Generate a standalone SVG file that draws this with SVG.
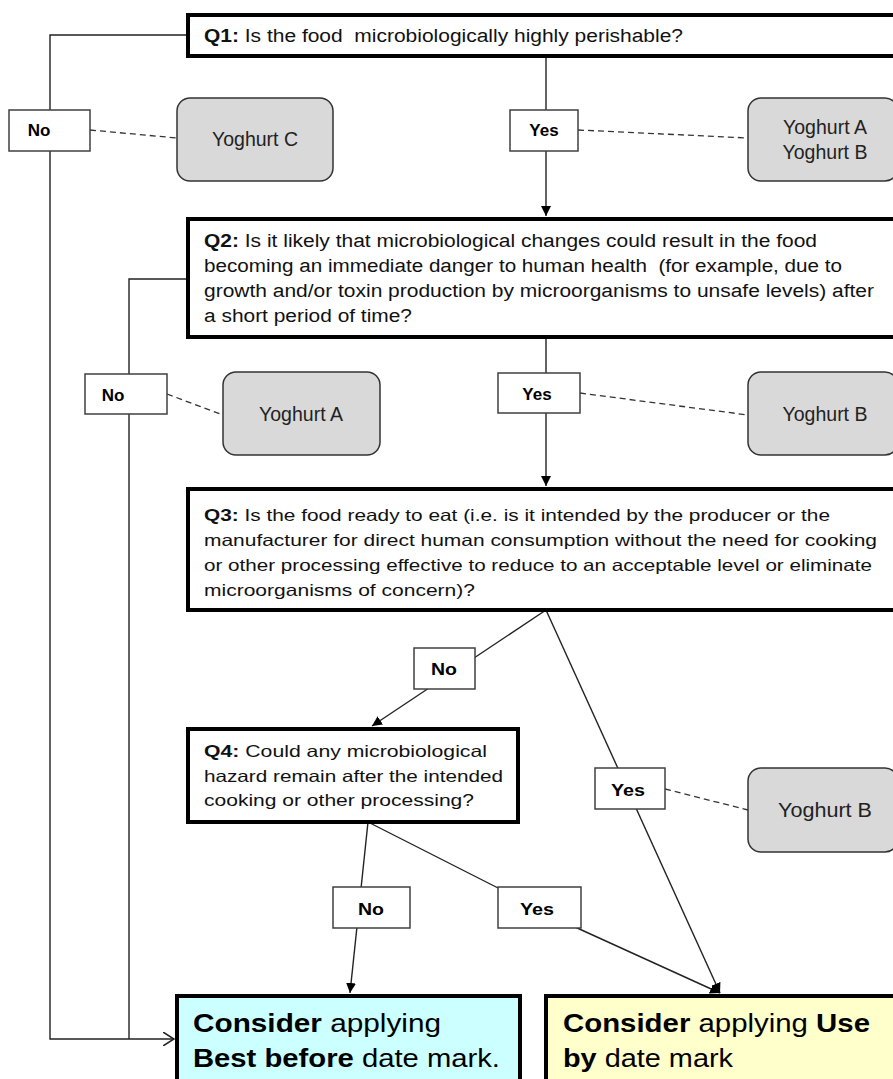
<svg xmlns="http://www.w3.org/2000/svg" width="893" height="1079" viewBox="0 0 893 1079">
<style>
.q{fill:#fff;stroke:#000;stroke-width:4}
.lbl{fill:#fff;stroke:#404040;stroke-width:1.5}
.yog{fill:#d9d9d9;stroke:#333;stroke-width:1.5}
.t{font-family:"Liberation Sans",Arial,sans-serif;font-size:18px;fill:#111}
.tn{font-family:"Liberation Sans",Arial,sans-serif;font-size:16.5px;fill:#111}
.lt{font-family:"Liberation Sans",Arial,sans-serif;font-size:17px;font-weight:bold;fill:#000;text-anchor:middle}
.yt{font-family:"Liberation Sans",Arial,sans-serif;font-size:19.5px;fill:#222;text-anchor:middle}
.big{font-family:"Liberation Sans",Arial,sans-serif;font-size:25px;fill:#000}
.con{fill:none;stroke:#222;stroke-width:1.4}
.dash{fill:none;stroke:#333;stroke-width:1.3;stroke-dasharray:6,4}
</style>
<defs>
<marker id="ah" viewBox="0 0 10 10" refX="10" refY="5" markerWidth="10" markerHeight="10" markerUnits="userSpaceOnUse" orient="auto">
<path d="M0,0 L10,5 L0,10 z" fill="#000"/>
</marker>
<marker id="oa" viewBox="0 0 12 14" refX="11" refY="7" markerWidth="12" markerHeight="14" markerUnits="userSpaceOnUse" orient="auto">
<path d="M0,0 L11,7 L0,14" fill="none" stroke="#222" stroke-width="1.5"/>
</marker>
</defs>
<rect width="893" height="1079" fill="#fff"/>
<g id="connectors">
<polyline class="con" points="188,35 50,35 50,1039 174,1039" marker-end="url(#oa)"/>
<polyline class="con" points="188,279 129,279 129,1039"/>
<line class="con" x1="546" y1="56" x2="546" y2="216" marker-end="url(#ah)"/>
<line class="con" x1="546" y1="337" x2="546" y2="486" marker-end="url(#ah)"/>
<line class="con" x1="546" y1="610" x2="372" y2="726" marker-end="url(#ah)"/>
<line class="con" x1="546" y1="610" x2="720" y2="993" marker-end="url(#ah)"/>
<line class="con" x1="368" y1="822" x2="350" y2="993" marker-end="url(#ah)"/>
<polyline class="con" points="368,822 500,889 575,927 720,993" marker-end="url(#ah)"/>
<line class="dash" x1="90" y1="130" x2="177" y2="138"/>
<line class="dash" x1="578" y1="130" x2="748" y2="138"/>
<line class="dash" x1="167" y1="394" x2="223" y2="415"/>
<line class="dash" x1="580" y1="393" x2="748" y2="415"/>
<line class="dash" x1="665" y1="789" x2="748" y2="810"/>
</g>
<g id="q1">
<rect class="q" x="188" y="15" width="720" height="41"/>
<text class="t" x="204" y="42" textLength="479" lengthAdjust="spacingAndGlyphs" xml:space="preserve"><tspan font-weight="bold">Q1:</tspan> Is the food  microbiologically highly perishable?</text>
</g>
<g id="q1-no"><rect class="lbl" x="9" y="110" width="81" height="41"/><text class="lt" x="39" y="136">No</text></g>
<g id="q1-yes"><rect class="lbl" x="510" y="110" width="68" height="41"/><text class="lt" x="544" y="136">Yes</text></g>
<g id="yog-c"><rect class="yog" x="177" y="98" width="156" height="83" rx="13"/><text class="yt" x="255" y="146">Yoghurt C</text></g>
<g id="yog-ab"><rect class="yog" x="748" y="98" width="150" height="83" rx="13"/><text class="yt" x="825" y="134">Yoghurt A</text><text class="yt" x="825" y="159">Yoghurt B</text></g>
<g id="q2">
<rect class="q" x="188" y="219" width="720" height="118"/>
<text class="t" x="204" y="247" textLength="613" lengthAdjust="spacingAndGlyphs"><tspan font-weight="bold">Q2:</tspan> Is it likely that microbiological changes could result in the food</text>
<text class="t" x="204" y="272" textLength="638" lengthAdjust="spacingAndGlyphs" xml:space="preserve">becoming an immediate danger to human health  (for example, due to</text>
<text class="t" x="204" y="297" textLength="670" lengthAdjust="spacingAndGlyphs">growth and/or toxin production by microorganisms to unsafe levels) after</text>
<text class="t" x="204" y="322" textLength="208" lengthAdjust="spacingAndGlyphs">a short period of time?</text>
</g>
<g id="q2-no"><rect class="lbl" x="85" y="374" width="82" height="40"/><text class="lt" x="113" y="401">No</text></g>
<g id="q2-yes"><rect class="lbl" x="498" y="373" width="82" height="40"/><text class="lt" x="537" y="400">Yes</text></g>
<g id="yog-a"><rect class="yog" x="223" y="372" width="157" height="83" rx="13"/><text class="yt" x="301" y="421">Yoghurt A</text></g>
<g id="yog-b1"><rect class="yog" x="748" y="372" width="150" height="83" rx="13"/><text class="yt" x="825" y="421">Yoghurt B</text></g>
<g id="q3">
<rect class="q" x="188" y="489" width="720" height="121"/>
<text class="tn" x="204" y="521" textLength="626" lengthAdjust="spacingAndGlyphs"><tspan font-weight="bold">Q3:</tspan> Is the food ready to eat (i.e. is it intended by the producer or the</text>
<text class="tn" x="204" y="546" textLength="673" lengthAdjust="spacingAndGlyphs">manufacturer for direct human consumption without the need for cooking</text>
<text class="tn" x="204" y="571" textLength="668" lengthAdjust="spacingAndGlyphs">or other processing effective to reduce to an acceptable level or eliminate</text>
<text class="tn" x="204" y="596" textLength="271" lengthAdjust="spacingAndGlyphs">microorganisms of concern)?</text>
</g>
<g id="q3-no"><rect class="lbl" x="414" y="648" width="61" height="41"/><text class="lt" x="444" y="675" textLength="26" lengthAdjust="spacingAndGlyphs">No</text></g>
<g id="q3-yes"><rect class="lbl" x="595" y="768" width="70" height="41"/><text class="lt" x="628" y="796" textLength="34" lengthAdjust="spacingAndGlyphs">Yes</text></g>
<g id="yog-b2"><rect class="yog" x="748" y="768" width="150" height="84" rx="13"/><text class="yt" x="825" y="817" textLength="94" lengthAdjust="spacingAndGlyphs">Yoghurt B</text></g>
<g id="q4">
<rect class="q" x="188" y="729" width="330" height="93"/>
<text class="tn" x="204" y="757" textLength="283" lengthAdjust="spacingAndGlyphs"><tspan font-weight="bold">Q4:</tspan> Could any microbiological</text>
<text class="tn" x="204" y="782" textLength="299" lengthAdjust="spacingAndGlyphs">hazard remain after the intended</text>
<text class="tn" x="204" y="806" textLength="270" lengthAdjust="spacingAndGlyphs">cooking or other processing?</text>
</g>
<g id="q4-no"><rect class="lbl" x="333" y="887" width="77" height="41"/><text class="lt" x="371" y="915" textLength="26" lengthAdjust="spacingAndGlyphs">No</text></g>
<g id="q4-yes"><rect class="lbl" x="498" y="887" width="83" height="41"/><text class="lt" x="537" y="915" textLength="34" lengthAdjust="spacingAndGlyphs">Yes</text></g>
<g id="best-before">
<rect x="177" y="996" width="343" height="100" fill="#ccffff" stroke="#000" stroke-width="4"/>
<text class="big" x="193" y="1032" textLength="248" lengthAdjust="spacingAndGlyphs"><tspan font-weight="bold">Consider</tspan> applying</text>
<text class="big" x="193" y="1067" textLength="307" lengthAdjust="spacingAndGlyphs"><tspan font-weight="bold">Best before</tspan> date mark.</text>
</g>
<g id="use-by">
<rect x="546" y="996" width="360" height="100" fill="#ffffcc" stroke="#000" stroke-width="4"/>
<text class="big" x="563" y="1032" textLength="307" lengthAdjust="spacingAndGlyphs"><tspan font-weight="bold">Consider</tspan> applying <tspan font-weight="bold">Use</tspan></text>
<text class="big" x="563" y="1067" textLength="170" lengthAdjust="spacingAndGlyphs"><tspan font-weight="bold">by</tspan> date mark</text>
</g>
</svg>
